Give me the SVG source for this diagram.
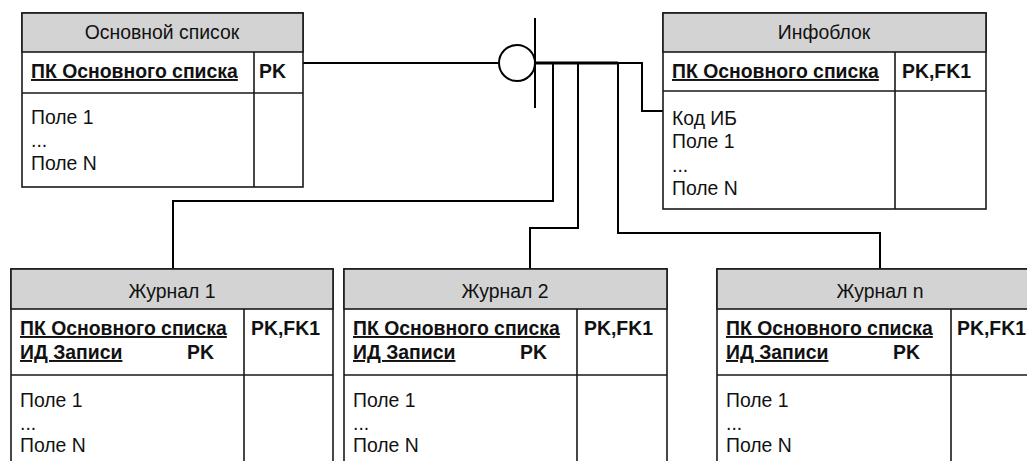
<svg xmlns="http://www.w3.org/2000/svg" width="1027" height="461" viewBox="0 0 1027 461">
<style>
.box{fill:#fff;stroke:#1a1a1a;stroke-width:1.6}
.hdr{fill:#d3d3d3;stroke:#1a1a1a;stroke-width:1.6}
.ln{stroke:#1a1a1a;stroke-width:1.6;fill:none}
.t{font-family:"Liberation Sans",Arial,sans-serif;font-size:19.4px;fill:#111}
.h{text-anchor:middle}
.b{font-weight:bold}
.u{text-decoration:underline}
.c{stroke:#000;stroke-width:2;fill:none}
.ct{stroke:#000;stroke-width:3;fill:none}
</style>
<g id="connectors">
<path class="c" d="M303,63 H499"/>
<circle cx="517" cy="63" r="18" fill="#fff" stroke="#000" stroke-width="2"/>
<path class="c" d="M535,18 V108"/>
<path class="ct" d="M535,63 H618"/>
<path class="c" d="M618,63 H642 V111 H663"/>
<path class="c" d="M553,63 V201 H173 V269"/>
<path class="c" d="M578,63 V228 H530 V269"/>
<path class="c" d="M618,63 V233 H880 V269"/>
</g>
<g id="main-list">
<rect class="box" x="22" y="13" width="281" height="174"/>
<rect class="hdr" x="22" y="13" width="281" height="39"/>
<path class="ln" d="M22,93 H303 M254,52 V187"/>
<text class="t h" x="162" y="39">Основной список</text>
<text class="t b u" x="31" y="78">ПК Основного списка</text>
<text class="t b" x="259" y="78">PK</text>
<text class="t" x="31" y="124">Поле 1</text>
<text class="t" x="31" y="147">...</text>
<text class="t" x="31" y="170">Поле N</text>
</g>
<g id="infoblock">
<rect class="box" x="663" y="13" width="323" height="196"/>
<rect class="hdr" x="663" y="13" width="323" height="39"/>
<path class="ln" d="M663,91 H986 M895,52 V209"/>
<text class="t h" x="824" y="39">Инфоблок</text>
<text class="t b u" x="672" y="78">ПК Основного списка</text>
<text class="t b" x="902" y="78">PK,FK1</text>
<text class="t" x="672" y="125">Код ИБ</text>
<text class="t" x="672" y="148">Поле 1</text>
<text class="t" x="672" y="172">...</text>
<text class="t" x="672" y="195">Поле N</text>
</g>
<g id="journal-1">
<rect class="box" x="11" y="269" width="322" height="210"/>
<rect class="hdr" x="11" y="269" width="322" height="40"/>
<path class="ln" d="M11,375 H333 M244,309 V479"/>
<text class="t h" x="172" y="298">Журнал 1</text>
<text class="t b u" x="20" y="335">ПК Основного списка</text>
<text class="t b u" x="20" y="359">ИД Записи</text>
<text class="t b" x="187" y="359">PK</text>
<text class="t b" x="251" y="335">PK,FK1</text>
<text class="t" x="20" y="407">Поле 1</text>
<text class="t" x="20" y="430">...</text>
<text class="t" x="20" y="452">Поле N</text>
</g>
<g id="journal-2">
<rect class="box" x="344" y="269" width="323" height="210"/>
<rect class="hdr" x="344" y="269" width="323" height="40"/>
<path class="ln" d="M344,375 H667 M577,309 V479"/>
<text class="t h" x="505" y="298">Журнал 2</text>
<text class="t b u" x="353" y="335">ПК Основного списка</text>
<text class="t b u" x="353" y="359">ИД Записи</text>
<text class="t b" x="520" y="359">PK</text>
<text class="t b" x="584" y="335">PK,FK1</text>
<text class="t" x="353" y="407">Поле 1</text>
<text class="t" x="353" y="430">...</text>
<text class="t" x="353" y="452">Поле N</text>
</g>
<g id="journal-n">
<rect class="box" x="717" y="269" width="330" height="210"/>
<rect class="hdr" x="717" y="269" width="330" height="40"/>
<path class="ln" d="M717,375 H1047 M951,309 V479"/>
<text class="t h" x="880" y="298">Журнал n</text>
<text class="t b u" x="726" y="335">ПК Основного списка</text>
<text class="t b u" x="726" y="359">ИД Записи</text>
<text class="t b" x="893" y="359">PK</text>
<text class="t b" x="957" y="335">PK,FK1</text>
<text class="t" x="726" y="407">Поле 1</text>
<text class="t" x="726" y="430">...</text>
<text class="t" x="726" y="452">Поле N</text>
</g>
</svg>
